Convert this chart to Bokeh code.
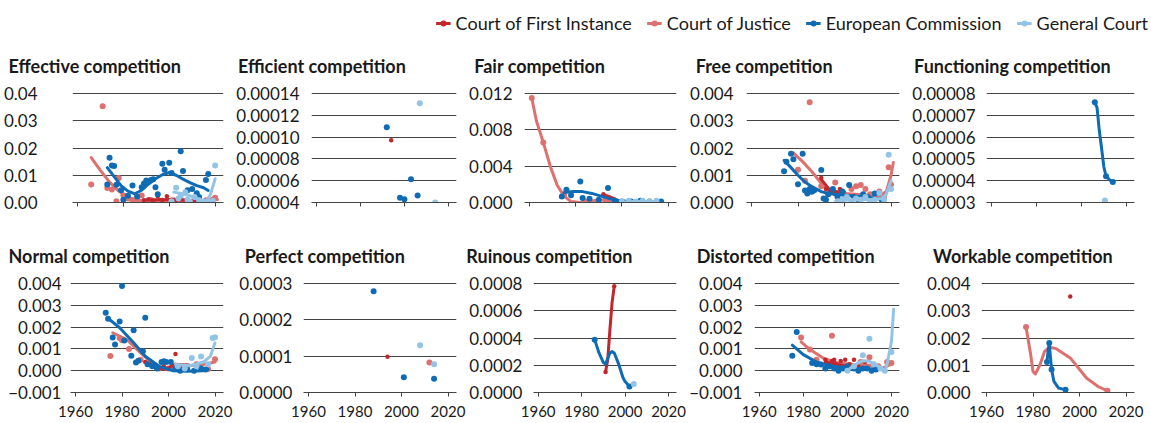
from bokeh.plotting import figure
from bokeh.models import Range1d, FixedTicker, CustomJSTickFormatter, Legend, LegendItem
from bokeh.core.properties import value
from bokeh.layouts import column, row
from bokeh.embed import file_html
from bokeh.resources import INLINE

# ---------------- data ----------------
SERIES = ["Court of First Instance", "Court of Justice", "European Commission", "General Court"]
YEAR_TICKS = [1960, 1980, 2000, 2020]

# Effective competition
EFF_CFI_DOTS = [(1989, 0.0008), (1991, 0.0012), (1993, 0.0006), (1995, 0.0023), (1997, 0.0009), (1999, 0.0023),
                (2001, 0.0010), (2003, 0.0006), (2005, 0.0012), (2008, 0.0007), (2011, 0.0004)]
EFF_CFI_TREND = [(1989, 0.0009), (1995, 0.0010), (2000, 0.0011), (2005, 0.0009), (2010, 0.0006), (2012, 0.0005)]
EFF_CJ_DOTS = [(1966, 0.0066), (1971, 0.0353), (1973, 0.0053), (1975, 0.0048), (1977, 0.0005), (1978, 0.0090),
               (1980, 0.0026), (1982, 0.0015), (1984, 0.0008), (1986, 0.0012), (1988, 0.0026), (1990, 0.0004),
               (1992, 0.0009), (1994, 0.0003), (1996, 0.0006), (1998, 0.0002), (2000, 0.0005), (2002, 0.0008),
               (2004, 0.0003), (2006, 0.0006), (2008, 0.0002), (2010, 0.0004), (2012, 0.0006), (2014, 0.0002),
               (2016, 0.0008), (2018, 0.0005), (2019, 0.0011), (2020, 0.0017)]
EFF_CJ_TREND = [(1966, 0.0165), (1970, 0.0118), (1974, 0.0075), (1978, 0.0042), (1982, 0.0020), (1986, 0.0008),
                (1992, 0.0005), (2000, 0.0004), (2010, 0.0004), (2016, 0.0005), (2021, 0.0011)]
EFF_EC_DOTS = [(1973, 0.0066), (1974, 0.0164), (1975, 0.0136), (1976, 0.0134), (1977, 0.0065), (1979, 0.0045),
               (1980, 0.0010), (1982, 0.0025), (1984, 0.0062), (1986, 0.0022), (1988, 0.0056), (1989, 0.0070),
               (1990, 0.0081), (1992, 0.0083), (1993, 0.0085), (1994, 0.0056), (1995, 0.0030), (1997, 0.0142),
               (1998, 0.0120), (2000, 0.0146), (2001, 0.0108), (2005, 0.0188), (2006, 0.0116), (2008, 0.0045),
               (2010, 0.0050), (2012, 0.0034), (2013, 0.0020), (2016, 0.0083), (2017, 0.0105)]
EFF_EC_TREND = [(1973, 0.0128), (1976, 0.0095), (1979, 0.0062), (1982, 0.0042), (1985, 0.0032), (1988, 0.0045),
                (1991, 0.0068), (1994, 0.0087), (1997, 0.0102), (2000, 0.0110), (2003, 0.0100), (2006, 0.0086),
                (2009, 0.0073), (2012, 0.0062), (2015, 0.0054), (2017, 0.0044)]
EFF_GC_DOTS = [(2001, 0.0005), (2003, 0.0054), (2004, 0.0015), (2005, 0.0025), (2007, 0.0038), (2008, 0.0010),
               (2009, 0.0003), (2011, 0.0020), (2013, 0.0008), (2015, 0.0004), (2017, 0.0002), (2019, 0.0006),
               (2020, 0.0136)]
EFF_GC_TREND = [(2002, 0.0038), (2006, 0.0032), (2010, 0.0022), (2014, 0.0008), (2016, 0.0001), (2018, 0.0030),
                (2020, 0.0087)]

# Efficient competition
EFFI_CFI_DOTS = [(1994, 0.0000971)]
EFFI_EC_DOTS = [(1992, 0.000109), (1998, 0.0000443), (2000, 0.000043), (2003, 0.0000614), (2006, 0.0000464)]
EFFI_GC_DOTS = [(2007, 0.000131), (2014, 0.00004)]

# Fair competition
FAIR_CFI_DOTS = [(1992, 0.0009), (1995, 0.0005)]
FAIR_CFI_TREND = [(1992, 0.00085), (1995, 0.0006), (1997, 0.0004)]
FAIR_CJ_DOTS = [(1961, 0.0115), (1966, 0.0066), (1975, 0.0008), (1984, 0.0001), (1993, 0.0003), (1998, 0.0001)]
FAIR_CJ_TREND = [(1961, 0.0115), (1963, 0.0090), (1966, 0.0066), (1969, 0.0040), (1972, 0.0019), (1975, 0.0007),
                 (1978, 0.0001), (1982, 0.0000), (1986, 0.0001), (1990, 0.0003), (1994, 0.0002), (1998, 0.0000)]
FAIR_EC_DOTS = [(1974, 0.00067), (1976, 0.0014), (1978, 0.0008), (1982, 0.0023), (1983, 0.0005), (1986, 0.0004),
                (1990, 0.0003), (1994, 0.0016), (1997, 0.0002), (2000, 0.0001), (2004, 0.0001), (2008, 0.0002),
                (2012, 0.0001), (2017, 0.0001)]
FAIR_EC_TREND = [(1975, 0.0011), (1979, 0.0012), (1983, 0.0012), (1987, 0.0010), (1991, 0.0007), (1995, 0.0004),
                 (1999, 0.0002), (2003, 0.0001), (2010, 0.0001), (2017, 0.0001)]
FAIR_GC_DOTS = [(2000, 0.0001), (2003, 0.0002), (2006, 0.0001), (2009, 0.0002), (2012, 0.0001), (2015, 0.0002)]
FAIR_GC_TREND = [(2000, 0.0000), (2005, 0.0001), (2010, 0.0001), (2014, 0.0001)]

# Free competition
FREE_CFI_DOTS = [(1990, 0.0009), (1992, 0.0005), (1994, 0.0004), (1996, 0.0003), (1998, 0.0005)]
FREE_CFI_TREND = [(1990, 0.00085), (1994, 0.00042), (1998, 0.00039), (2000, 0.00039)]
FREE_CJ_DOTS = [(1980, 0.0012), (1983, 0.0008), (1985, 0.00368), (1990, 0.0006), (1993, 0.0003), (1996, 0.00073),
                (1999, 0.0004), (2003, 0.0005), (2005, 0.0006), (2007, 0.00064), (2009, 0.0005), (2011, 0.0003),
                (2013, 0.0002), (2015, 0.0004), (2017, 0.0002), (2019, 0.00129), (2020, 0.00066)]
FREE_CJ_TREND = [(1978, 0.00182), (1982, 0.0015), (1986, 0.00113), (1990, 0.0007), (1993, 0.00042),
                 (1997, 0.00035), (2000, 0.00033), (2005, 0.0003), (2010, 0.00027), (2015, 0.00024),
                 (2018, 0.0004), (2020, 0.0010), (2021, 0.00147)]
FREE_EC_DOTS = [(1974, 0.00115), (1975, 0.0015), (1977, 0.00179), (1978, 0.00159), (1980, 0.00067),
                (1982, 0.00179), (1983, 0.00044), (1984, 0.00033), (1985, 0.0005), (1986, 0.00039),
                (1987, 0.00045), (1990, 0.00119), (1991, 0.00015), (1992, 0.0001), (1993, 0.0003), (1995, 0.0005),
                (1997, 0.0002), (1999, 0.0004), (2002, 0.00064), (2004, 0.0002), (2006, 0.0001), (2008, 0.0003),
                (2010, 0.0002), (2013, 0.00033), (2016, 0.0001)]
FREE_EC_TREND = [(1974, 0.00155), (1977, 0.00128), (1980, 0.0010), (1983, 0.00075), (1986, 0.00058),
                 (1990, 0.0004), (1993, 0.00033), (2000, 0.00027), (2007, 0.00021), (2014, 0.00015), (2017, 0.0001)]
FREE_GC_DOTS = [(1997, 0.00005), (1999, 0.0001), (2001, 0.0002), (2003, 0.00005), (2005, 0.00015), (2007, 0.0001),
                (2009, 0.0002), (2011, 0.00005), (2013, 0.0001), (2015, 0.00035), (2017, 0.0001), (2019, 0.00175),
                (2020, 0.0005)]
FREE_GC_TREND = [(1996, 0.00003), (2000, 0.00008), (2003, 0.0001), (2008, 0.0001), (2013, 0.00012),
                 (2016, 0.00015), (2018, 0.0003), (2020, 0.0008)]

# Functioning competition
FUNC_EC_DOTS = [(2006, 0.000076), (2011, 0.000042), (2014, 0.0000394)]
FUNC_EC_TREND = [(2006, 0.000076), (2007, 0.0000735), (2008, 0.000063), (2009, 0.000055), (2010, 0.0000465),
                 (2011, 0.000042), (2012, 0.000041), (2013, 0.00004), (2014, 0.0000394)]
FUNC_GC_DOTS = [(2010.5, 0.0000309)]

# Normal competition
NORM_CFI_DOTS = [(1990, 0.0004), (1992, 0.0003), (1994, 0.0002), (1996, 0.0001), (1998, 0.0002), (2000, 0.0001),
                 (2003, 0.00077), (2006, 0.0002)]
NORM_CFI_TREND = [(1990, 0.0004), (1995, 0.00015), (1999, 0.00008), (2003, 0.0003), (2009, 0.00025)]
NORM_CJ_DOTS = [(1975, 0.00068), (1979, 0.0015), (1980, 0.0014), (1983, 0.00099), (1988, 0.0005), (1992, 0.0003),
                (1996, 0.0001), (2000, 0.0001), (2004, 0.0002), (2008, 0.0002), (2012, 0.0003), (2017, 0.00008),
                (2020, 0.00052)]
NORM_CJ_TREND = [(1976, 0.00174), (1982, 0.00143), (1988, 0.00082), (1993, 0.00035), (1999, 0.00005),
                 (2006, 0.0002), (2015, 0.00028), (2020, 0.0004)]
NORM_EC_DOTS = [(1973, 0.00266), (1974, 0.00238), (1976, 0.00152), (1977, 0.0012), (1979, 0.00226),
                (1980, 0.00388), (1981, 0.00138), (1984, 0.00069), (1985, 0.00185), (1986, 0.00038),
                (1987, 0.00046), (1989, 0.00089), (1990, 0.00243), (1991, 0.0003), (1993, 0.0002), (1995, 0.0001),
                (1997, 0.0004), (1998, 0.00043), (1999, 0.0004), (2001, 0.0004), (2003, 0.0001), (2005, 0.0000),
                (2008, 0.0001), (2011, 0.0000), (2014, 0.0001), (2016, 0.00005)]
NORM_EC_TREND = [(1974, 0.0024), (1979, 0.00197), (1985, 0.00128), (1990, 0.00066), (1996, 0.0002),
                 (2002, 0.0000), (2008, -0.00003), (2015, 0.0000), (2017, 0.00005)]
NORM_GC_DOTS = [(2004, 0.0002), (2007, 0.0001), (2010, 0.00058), (2012, 0.0002), (2014, 0.00065), (2017, 0.0003),
                (2019, 0.0015), (2020, 0.00153)]
NORM_GC_TREND = [(2003, 0.00028), (2009, 0.00023), (2015, 0.0004), (2018, 0.00066), (2020, 0.00128)]

# Perfect competition
PERF_CFI_DOTS = [(1994, 0.0000981)]
PERF_CJ_DOTS = [(2012, 0.0000824)]
PERF_EC_DOTS = [(1988, 0.000279), (2001, 0.0000417), (2014, 0.000038)]
PERF_GC_DOTS = [(2008, 0.00013), (2014, 0.0000778)]

# Ruinous competition
RUIN_CFI_DOTS = [(1991, 0.00015), (1995, 0.00078)]
RUIN_CFI_TREND = [(1991, 0.00015), (1992, 0.00024), (1993, 0.00046), (1994, 0.00066), (1995, 0.00078)]
RUIN_EC_DOTS = [(1986, 0.000388), (2002, 0.0000444)]
RUIN_EC_TREND = [(1986, 0.000388), (1988, 0.00029), (1990, 0.00022), (1991, 0.00021), (1992, 0.00025),
                 (1993, 0.00029), (1994, 0.0003), (1995, 0.00029), (1997, 0.00021), (1999, 0.00011),
                 (2000, 0.00008), (2002, 0.0000444)]
RUIN_GC_DOTS = [(2004, 0.0000617)]

# Distorted competition
DIST_CFI_DOTS = [(1990, 0.0005), (1991, 0.0002), (1993, 0.00045), (1994, 0.0005), (1995, 0.0003), (1997, 0.00045),
                 (1999, 0.0005), (2001, 0.0003), (2003, 0.0005), (2005, 0.0002), (2008, 0.0004)]
DIST_CFI_TREND = [(1990, 0.0004), (1995, 0.0003), (2000, 0.0002), (2005, 0.0002)]
DIST_CJ_DOTS = [(1979, 0.00152), (1983, 0.00097), (1986, 0.0005), (1993, 0.0016), (1997, 0.0003), (2002, 0.0002),
                (2006, 0.0004), (2010, 0.00062), (2014, 0.0002), (2018, 0.0004), (2020, 0.00035)]
DIST_CJ_TREND = [(1979, 0.00132), (1983, 0.00097), (1989, 0.00058), (1996, 0.00035), (2003, 0.00028),
                 (2010, 0.00025), (2016, 0.00012), (2020, 0.0003)]
DIST_EC_DOTS = [(1975, 0.00069), (1977, 0.00178), (1984, 0.00035), (1986, 0.0003), (1988, 0.00028),
                (1990, 0.0001), (1992, 0.0002), (1994, 0.0001), (1996, 0.0000), (1998, 0.0001), (2000, 0.0002),
                (2003, 0.0001), (2005, 0.0000), (2007, 0.0001), (2009, 0.0001), (2011, 0.0000), (2013, 0.00005)]
DIST_EC_TREND = [(1975, 0.00117), (1980, 0.00074), (1986, 0.0004), (1993, 0.0002), (2000, 0.00012),
                 (2008, 0.00009), (2013, 0.00008)]
DIST_GC_DOTS = [(2000, 0.0000), (2003, 0.0002), (2007, 0.00071), (2010, 0.00146), (2012, 0.0003), (2015, 0.0001),
                (2017, 0.0000), (2020, 0.00086), (2021, 0.00425)]
DIST_GC_TREND = [(2000, 0.0000), (2003, 0.00025), (2007, 0.00046), (2010, 0.00043), (2014, 0.0002),
                 (2017, 0.0000), (2018, 0.00028), (2020, 0.00135), (2021, 0.00282)]

# Workable competition
WORK_CFI_DOTS = [(1996, 0.00352)]
WORK_CJ_DOTS = [(1977, 0.0024), (2012, 0.00006)]
WORK_CJ_TREND = [(1977, 0.0024), (1979, 0.00139), (1980, 0.00077), (1981, 0.00068), (1983, 0.00102),
                 (1985, 0.00151), (1987, 0.00166), (1990, 0.00161), (1996, 0.00127), (2003, 0.00053),
                 (2008, 0.00022), (2012, 0.00006)]
WORK_EC_DOTS = [(1986, 0.00112), (1987, 0.00182), (1988, 0.00084), (1994, 0.0001)]
WORK_EC_TREND = [(1986, 0.00112), (1986.6, 0.0016), (1987, 0.00182), (1987.4, 0.0014), (1988, 0.00084),
                 (1989, 0.00041), (1991, 0.00016), (1994, 0.0001)]

TITLES = ["Effective competition", "Efficient competition", "Fair competition", "Free competition",
          "Functioning competition", "Normal competition", "Perfect competition", "Ruinous competition",
          "Distorted competition", "Workable competition"]

# panel specs: y ticks, decimals, {series index: (dots, trend)}
PANELS = [
    ([0, 0.01, 0.02, 0.03, 0.04], 2,
     {0: (EFF_CFI_DOTS, EFF_CFI_TREND), 1: (EFF_CJ_DOTS, EFF_CJ_TREND),
      2: (EFF_EC_DOTS, EFF_EC_TREND), 3: (EFF_GC_DOTS, EFF_GC_TREND)}),
    ([0.00004, 0.00006, 0.00008, 0.00010, 0.00012, 0.00014], 5,
     {0: (EFFI_CFI_DOTS, []), 2: (EFFI_EC_DOTS, []), 3: (EFFI_GC_DOTS, [])}),
    ([0, 0.004, 0.008, 0.012], 3,
     {0: (FAIR_CFI_DOTS, FAIR_CFI_TREND), 1: (FAIR_CJ_DOTS, FAIR_CJ_TREND),
      2: (FAIR_EC_DOTS, FAIR_EC_TREND), 3: (FAIR_GC_DOTS, FAIR_GC_TREND)}),
    ([0, 0.001, 0.002, 0.003, 0.004], 3,
     {0: (FREE_CFI_DOTS, FREE_CFI_TREND), 1: (FREE_CJ_DOTS, FREE_CJ_TREND),
      2: (FREE_EC_DOTS, FREE_EC_TREND), 3: (FREE_GC_DOTS, FREE_GC_TREND)}),
    ([0.00003, 0.00004, 0.00005, 0.00006, 0.00007, 0.00008], 5,
     {2: (FUNC_EC_DOTS, FUNC_EC_TREND), 3: (FUNC_GC_DOTS, [])}),
    ([-0.001, 0, 0.001, 0.002, 0.003, 0.004], 3,
     {0: (NORM_CFI_DOTS, NORM_CFI_TREND), 1: (NORM_CJ_DOTS, NORM_CJ_TREND),
      2: (NORM_EC_DOTS, NORM_EC_TREND), 3: (NORM_GC_DOTS, NORM_GC_TREND)}),
    ([0, 0.0001, 0.0002, 0.0003], 4,
     {0: (PERF_CFI_DOTS, []), 1: (PERF_CJ_DOTS, []), 2: (PERF_EC_DOTS, []), 3: (PERF_GC_DOTS, [])}),
    ([0, 0.0002, 0.0004, 0.0006, 0.0008], 4,
     {0: (RUIN_CFI_DOTS, RUIN_CFI_TREND), 2: (RUIN_EC_DOTS, RUIN_EC_TREND), 3: (RUIN_GC_DOTS, [])}),
    ([-0.001, 0, 0.001, 0.002, 0.003, 0.004], 3,
     {0: (DIST_CFI_DOTS, DIST_CFI_TREND), 1: (DIST_CJ_DOTS, DIST_CJ_TREND),
      2: (DIST_EC_DOTS, DIST_EC_TREND), 3: (DIST_GC_DOTS, DIST_GC_TREND)}),
    ([0, 0.001, 0.002, 0.003, 0.004], 3,
     {0: (WORK_CFI_DOTS, []), 1: (WORK_CJ_DOTS, WORK_CJ_TREND), 2: (WORK_EC_DOTS, WORK_EC_TREND)}),
]

# ---------------- style ----------------
FONT = "Lato"
TEXT = "#1a1a1a"
COLORS = ["#c1272d", "#dc716f", "#0f6cb4", "#93c4e6"]
DOT_SIZE = [4.5, 6, 6, 6]
DRAW_ORDER = [1, 0, 2, 3]
LEFT = [70, 70, 57, 60, 72]
FRAME_W = 153
RIGHT = 10
FRAME_H = 110
TOP = [12, 12]
BOTTOM = [24, 31]
TITLE_STRIP_H = 44
TITLE_X = [[8, 238, 475, 697, 916], [8, 245, 467, 698, 935]]
TITLE_Y = 15
LABEL_STANDOFF = [[29, 6, 6, 7, 5], [3, 5, 5, 6, 5]]
X_RANGE = (1957.85, 2023.65)
PAGE_W = 1151


def make_panel(idx):
    yticks, dec, data = PANELS[idx]
    r, c = divmod(idx, 5)
    span = yticks[-1] - yticks[0]
    pad = span / (FRAME_H - 1)
    p = figure(width=LEFT[c] + FRAME_W + RIGHT, height=TOP[r] + FRAME_H + BOTTOM[r],
               x_range=Range1d(*X_RANGE), y_range=Range1d(yticks[0], yticks[-1] + pad),
               output_backend="svg", toolbar_location=None,
               min_border_left=LEFT[c], min_border_right=RIGHT,
               min_border_top=TOP[r], min_border_bottom=BOTTOM[r])
    p.outline_line_color = None
    p.background_fill_color = "white"
    p.border_fill_color = "white"

    p.xgrid.visible = False
    p.ygrid.ticker = FixedTicker(ticks=yticks)
    p.ygrid.grid_line_color = "#444444"
    p.ygrid.grid_line_width = 1

    ya = p.yaxis[0]
    ya.ticker = FixedTicker(ticks=yticks)
    ya.formatter = CustomJSTickFormatter(args=dict(d=dec),
                                         code="return tick.toFixed(d).replace('-', '\u2212');")
    ya.axis_line_color = None
    ya.major_tick_line_color = None
    ya.minor_tick_line_color = None
    ya.major_label_standoff = LABEL_STANDOFF[r][c]
    ya.major_label_text_font = FONT
    ya.major_label_text_font_size = "17px"
    ya.major_label_text_color = TEXT

    xa = p.xaxis[0]
    xa.ticker = FixedTicker(ticks=YEAR_TICKS)
    xa.axis_line_color = "#444444"
    xa.major_tick_line_color = "#444444"
    xa.major_tick_in = 0
    xa.major_tick_out = 4
    xa.minor_tick_line_color = None
    xa.major_label_standoff = 9
    xa.major_label_text_font = FONT
    xa.major_label_text_color = TEXT
    if r == 0:
        xa.major_label_text_font_size = "1px"
        xa.major_label_text_alpha = 0
    else:
        xa.major_label_text_font_size = "15px"

    for s in DRAW_ORDER:
        if s not in data:
            continue
        dots, trend = data[s]
        if dots:
            p.scatter([d[0] for d in dots], [d[1] for d in dots], size=DOT_SIZE[s],
                      fill_color=COLORS[s], line_color=None)
        if trend:
            p.line([t[0] for t in trend], [t[1] for t in trend], line_color=COLORS[s], line_width=3,
                   line_cap="round", line_join="round")
    return p


def make_strip(r):
    t = figure(width=PAGE_W, height=TITLE_STRIP_H, x_range=Range1d(0, PAGE_W),
               y_range=Range1d(0, TITLE_STRIP_H), output_backend="svg", toolbar_location=None,
               min_border=0, x_axis_type=None, y_axis_type=None)
    t.grid.visible = False
    t.outline_line_color = None
    t.text(x=TITLE_X[r], y=[TITLE_Y] * 5, text=TITLES[5 * r:5 * r + 5],
           text_font=value(FONT), text_font_size="18px", text_font_style="bold",
           text_color=TEXT, text_align="left", text_baseline="middle")
    return t


# top rule
rule = figure(width=PAGE_W, height=3, output_backend="svg", toolbar_location=None, min_border=0,
              x_axis_type=None, y_axis_type=None, background_fill_color="#111111",
              border_fill_color="#111111")
rule.outline_line_color = None
rule.grid.visible = False

# legend header (proxy renderers sit outside the visible range)
hdr = figure(width=PAGE_W, height=33, x_range=Range1d(0, 1), y_range=Range1d(0, 1),
             output_backend="svg", toolbar_location=None, min_border_left=0, min_border_bottom=0,
             min_border_top=9, min_border_right=3, x_axis_type=None, y_axis_type=None)
hdr.grid.visible = False
hdr.outline_line_color = None
items = []
for s, name in enumerate(SERIES):
    rl = hdr.line(x=[5, 6], y=[5, 5], line_color=COLORS[s], line_width=3)
    rs = hdr.scatter(x=[5], y=[5], fill_color=COLORS[s], line_color=None, size=6)
    items.append(LegendItem(label=name, renderers=[rl, rs]))
legend = Legend(items=items, orientation="horizontal", location="top_right",
                label_text_font=FONT, label_text_font_size="18px", label_text_color=TEXT,
                glyph_width=15, glyph_height=18, label_standoff=5, spacing=15, padding=0, margin=0,
                label_height=18, border_line_color=None, background_fill_alpha=0)
hdr.add_layout(legend)

figs = [make_panel(i) for i in range(10)]
layout = column(rule, hdr, make_strip(0), row(*figs[:5]), make_strip(1), row(*figs[5:]))

open("out.html", "w").write(file_html(layout, INLINE))
